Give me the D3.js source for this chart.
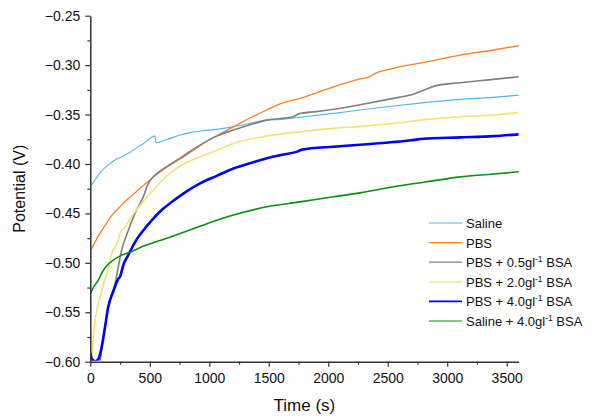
<!DOCTYPE html>
<html>
<head>
<meta charset="utf-8">
<script src="https://cdn.jsdelivr.net/npm/d3@7"></script>
<style>
  body { margin: 0; background: #fff; }
  svg { font-family: "Liberation Sans", Arial, sans-serif; }
</style>
</head>
<body>
<svg id="chart" width="597" height="419"></svg>
<script>
// data: [time (s), potential (V)]
var saline = [[0,-0.423],[40,-0.416],[96,-0.407],[150,-0.401],[222,-0.395],[278,-0.392],[362,-0.386],[450,-0.379],[544,-0.3718],[551,-0.3785],[650,-0.375],[754,-0.3707],[850,-0.368],[950,-0.3664],[1063,-0.365],[1175,-0.363],[1300,-0.360],[1483,-0.3556],[1600,-0.355],[1764,-0.3528],[2044,-0.3488],[2268,-0.3454],[2548,-0.3414],[2829,-0.3377],[3109,-0.3346],[3389,-0.3326],[3600,-0.3303]];
var pbs = [[0,-0.488],[40,-0.479],[82,-0.470],[130,-0.461],[180,-0.452],[236,-0.445],[292,-0.438],[348,-0.432],[404,-0.426],[516,-0.4146],[628,-0.4045],[754,-0.395],[880,-0.385],[979,-0.377],[1100,-0.369],[1231,-0.3606],[1350,-0.353],[1483,-0.3454],[1600,-0.339],[1764,-0.3336],[1900,-0.328],[2044,-0.3219],[2150,-0.318],[2268,-0.314],[2330,-0.3125],[2400,-0.308],[2548,-0.3032],[2700,-0.2995],[2829,-0.2966],[3109,-0.2898],[3389,-0.2847],[3600,-0.2804]];
var pbs05 = [[80,-0.602],[110,-0.575],[151,-0.5445],[208,-0.521],[264,-0.487],[320,-0.467],[376,-0.450],[446,-0.433],[488,-0.4196],[530,-0.413],[600,-0.406],[684,-0.3994],[780,-0.392],[880,-0.384],[1063,-0.3718],[1203,-0.3657],[1350,-0.360],[1483,-0.3556],[1600,-0.354],[1700,-0.3525],[1760,-0.349],[1900,-0.347],[2044,-0.3447],[2268,-0.340],[2548,-0.3336],[2689,-0.3303],[2800,-0.3255],[2913,-0.3205],[3109,-0.3178],[3389,-0.3144],[3600,-0.3117]];
var pbs20 = [[12,-0.600],[25,-0.575],[54,-0.548],[82,-0.535],[96,-0.528],[138,-0.5107],[180,-0.4905],[236,-0.477],[250,-0.470],[292,-0.4636],[376,-0.4484],[516,-0.428],[684,-0.4079],[800,-0.399],[923,-0.3927],[1063,-0.386],[1203,-0.3792],[1483,-0.3718],[1764,-0.3674],[2044,-0.364],[2268,-0.362],[2548,-0.359],[2829,-0.3549],[3109,-0.3522],[3389,-0.3505],[3600,-0.3478]];
var pbs40 = [[0,-0.5917],[15,-0.5975],[40,-0.5995],[67,-0.5975],[96,-0.585],[124,-0.5648],[151,-0.5445],[193,-0.529],[236,-0.516],[250,-0.514],[278,-0.502],[320,-0.492],[376,-0.479],[460,-0.465],[516,-0.457],[600,-0.4465],[684,-0.4385],[800,-0.4285],[923,-0.4197],[1063,-0.412],[1203,-0.4045],[1350,-0.399],[1483,-0.3943],[1620,-0.3905],[1740,-0.3875],[1780,-0.3855],[2044,-0.3825],[2268,-0.3805],[2548,-0.3778],[2700,-0.3760],[2800,-0.3745],[3109,-0.3731],[3389,-0.3718],[3600,-0.370]];
var saline40 = [[0,-0.531],[30,-0.524],[67,-0.5175],[100,-0.5095],[138,-0.5030],[190,-0.4975],[236,-0.4940],[348,-0.4885],[460,-0.4825],[560,-0.4785],[656,-0.4745],[796,-0.4685],[923,-0.4630],[1063,-0.4570],[1203,-0.4517],[1483,-0.4433],[1764,-0.4383],[2044,-0.4332],[2268,-0.4292],[2548,-0.4231],[2829,-0.418],[3109,-0.413],[3389,-0.4102],[3600,-0.4079]];

var seriesNames = ["Saline", "PBS", "PBS + 0.5gl", "PBS + 2.0gl", "PBS + 4.0gl", "Saline + 4.0gl"];
var seriesData = [saline, pbs, pbs05, pbs20, pbs40, saline40];
var xTicks = [0, 500, 1000, 1500, 2000, 2500, 3000, 3500];
var yTicks = [-0.60, -0.55, -0.50, -0.45, -0.40, -0.35, -0.30, -0.25];

var colors = ["#4db5f5", "#ff7f1e", "#808080", "#eee570", "#0000ff", "#0d8f0d"];
var widths = [1.1, 1.3, 1.6, 1.6, 2.6, 1.6];

var mLeft = 90.3, mRight = 518.6, mTop = 15.7, mBottom = 361.7;

var svg = d3.select("#chart");

var x = d3.scaleLinear().domain([0, 3600]).range([mLeft, mRight]);
var y = d3.scaleLinear().domain([-0.60, -0.25]).range([mBottom, mTop]);

svg.append("clipPath").attr("id", "plotclip")
  .append("rect")
    .attr("x", mLeft).attr("y", mTop - 2)
    .attr("width", mRight - mLeft + 2).attr("height", mBottom - mTop + 1);

// curves
var line = d3.line()
  .x(function(d) { return x(d[0]); })
  .y(function(d) { return y(d[1]); })
  .curve(d3.curveMonotoneX);

var plot = svg.append("g").attr("clip-path", "url(#plotclip)");
seriesData.forEach(function(s, i) {
  plot.append("path")
    .datum(s)
    .attr("fill", "none")
    .attr("stroke", colors[i])
    .attr("stroke-width", widths[i])
    .attr("stroke-linejoin", "round")
    .attr("d", line);
});

// axes: minor ticks first, then major ones with labels
var minorX = d3.range(250, 3600, 500);
var minorY = d3.range(-0.575, -0.25, 0.05);

svg.append("g")
  .attr("transform", "translate(0," + mBottom + ")")
  .call(d3.axisBottom(x).tickValues(minorX).tickSize(3).tickFormat(""))
  .call(function(g) { g.select(".domain").remove(); });

svg.append("g")
  .attr("transform", "translate(" + mLeft + ",0)")
  .call(d3.axisLeft(y).tickValues(minorY).tickSize(3).tickFormat(""))
  .call(function(g) { g.select(".domain").remove(); });

svg.append("g")
  .attr("transform", "translate(0," + mBottom + ")")
  .call(d3.axisBottom(x).tickValues(xTicks).tickSize(5).tickSizeOuter(0).tickPadding(6)
    .tickFormat(d3.format("d")));

svg.append("g")
  .attr("transform", "translate(" + mLeft + ",0)")
  .call(d3.axisLeft(y).tickValues(yTicks).tickSize(5).tickSizeOuter(0).tickPadding(5)
    .tickFormat(d3.format(".2f")));

svg.selectAll(".tick line").attr("stroke", "#333").attr("stroke-width", 1.2);
svg.selectAll(".domain").attr("stroke", "#333").attr("stroke-width", 1.5);
svg.selectAll(".tick text")
  .attr("fill", "#111")
  .style("font-size", "14px")
  .style("font-family", "Liberation Sans, Arial, sans-serif");

// axis titles
svg.append("text")
  .attr("x", (mLeft + mRight) / 2)
  .attr("y", 411)
  .attr("text-anchor", "middle")
  .style("font-size", "17px")
  .attr("fill", "#111")
  .text("Time (s)");

svg.append("text")
  .attr("transform", "translate(25," + ((mTop + mBottom) / 2) + ") rotate(-90)")
  .attr("text-anchor", "middle")
  .style("font-size", "16px")
  .attr("fill", "#111")
  .text("Potential (V)");

// legend
var legend = svg.append("g").attr("transform", "translate(429,223)");
seriesNames.forEach(function(name, i) {
  var row = legend.append("g").attr("transform", "translate(0," + (i * 19.6) + ")");
  row.append("line")
    .attr("x1", 0).attr("x2", 33)
    .attr("y1", 0).attr("y2", 0)
    .attr("stroke", colors[i])
    .attr("stroke-width", i == 4 ? 1.6 : 1.2);
  var t = row.append("text")
    .attr("x", 37).attr("y", 5)
    .style("font-size", "13px")
    .attr("fill", "#111");
  t.append("tspan").text(name);
  if (i >= 2) {
    t.append("tspan").attr("dy", -5).style("font-size", "8.5px").text("-1");
    t.append("tspan").attr("dy", 5).text(" BSA");
  }
});
</script>
</body>
</html>
